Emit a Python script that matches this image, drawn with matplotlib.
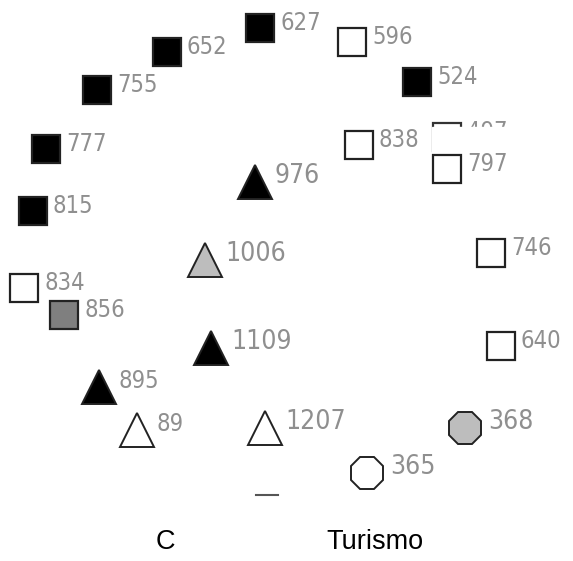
import matplotlib.pyplot as plt

# marker centres (picture coordinates, y grows downwards) and their labels
sq_x = [260, 167, 97, 46, 33, 24, 64, 352, 417, 359, 447, 491, 501]
sq_y = [28, 52, 90, 149, 211, 288, 315, 42, 82, 145, 169, 253, 346]
sq_lab = ["627", "652", "755", "777", "815", "834", "856", "596", "524", "838", "797", "746", "640"]
sq_fill = ["black", "black", "black", "black", "black", "white", "#7f7f7f",
           "white", "black", "white", "white", "white", "white"]

tri_x = [99, 137, 205, 255, 211, 265]
tri_y = [387, 430, 260, 182, 348, 428]
tri_lab = ["895", "89", "1006", "976", "1109", "1207"]
tri_fill = ["black", "white", "#bdbdbd", "black", "black", "white"]

oct_x = [465, 367]
oct_y = [428, 473]
oct_lab = ["368", "365"]
oct_fill = ["#bdbdbd", "white"]

hidden_x, hidden_y, hidden_lab = 447, 137, "497"

words = ["C", "Turismo"]
words_x = [165, 375]
words_y = [542, 542]

W, H = 573, 561
fig = plt.figure(figsize=(W / 100, H / 100), dpi=100)
ax = fig.add_axes([0, 0, 1, 1])
ax.set_xlim(0, W)
ax.set_ylim(H, 0)
ax.axis("off")

lab_color = "#8f8f8f"
lab_font = dict(family="DejaVu Sans", fontstretch="condensed", va="center")
tri_fs = [17, 17, 19, 19, 19, 19]  # the two lower-left labels are smaller

# partly hidden square, covered by a white patch
ax.plot(hidden_x, hidden_y, marker="s", ms=19.5, mfc="white", mec="#333333", mew=1.6, zorder=1)
ax.text(hidden_x + 20, hidden_y - 5, hidden_lab, color=lab_color, fontsize=17, zorder=1, **lab_font)
ax.add_patch(plt.Rectangle((432, 127), 120, 40, color="white", zorder=2))

for x, y, lab, fc in zip(sq_x, sq_y, sq_lab, sq_fill):
    ax.plot(x, y, marker="s", ms=19.5, mfc=fc, mec="#222222", mew=1.6, zorder=3)
    ax.text(x + 20, y - 5, lab, color=lab_color, fontsize=17, zorder=3, **lab_font)

for x, y, lab, fc, fs in zip(tri_x, tri_y, tri_lab, tri_fill, tri_fs):
    ax.plot(x, y, marker="^", ms=24.5, mfc=fc, mec="#222222", mew=1.4, zorder=3)
    ax.text(x + 20, y - 6, lab, color=lab_color, fontsize=fs, zorder=3, **lab_font)

for x, y, lab, fc in zip(oct_x, oct_y, oct_lab, oct_fill):
    ax.plot(x, y, marker="8", ms=24.5, mfc=fc, mec="#222222", mew=1.4, zorder=3)
    ax.text(x + 23, y - 6, lab, color=lab_color, fontsize=19, zorder=3, **lab_font)

# short dash near the bottom
ax.plot([256, 278], [495, 495], color="#555555", lw=1.5)

for w, x, y in zip(words, words_x, words_y):
    ax.text(x, y, w, fontsize=19.5, family="Liberation Sans", ha="center", va="center")

fig.savefig("out.png", dpi=100)
